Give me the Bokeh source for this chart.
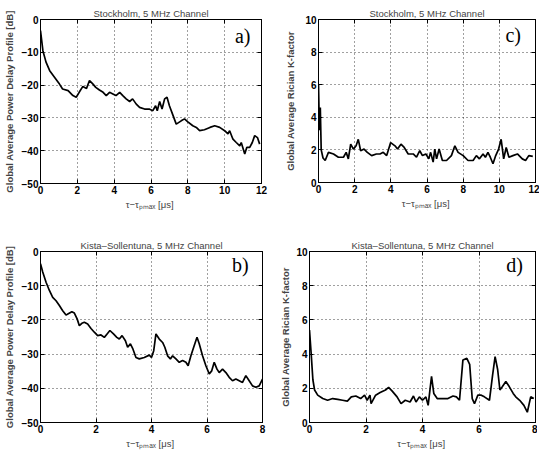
from bokeh.plotting import figure
from bokeh.layouts import column, row
from bokeh.models import Range1d, LinearAxis, Label, FixedTicker
from bokeh.embed import file_html
from bokeh.resources import INLINE

# ---------------- data ----------------
# a) Stockholm, power delay profile [dB]
sto_pdp_t = [0.0, 0.13, 0.3, 0.5, 0.76, 1.03, 1.2, 1.5, 1.76, 1.94, 2.1, 2.3, 2.5, 2.66,
             2.85, 3.0, 3.2, 3.4, 3.57, 3.75, 3.93, 4.1, 4.3, 4.47, 4.65, 4.84, 5.0, 5.2,
             5.38, 5.65, 5.9, 6.1, 6.25, 6.34, 6.47, 6.6, 6.74, 6.87, 7.0, 7.2, 7.37, 7.64,
             7.82, 8.0, 8.27, 8.46, 8.64, 8.9, 9.2, 9.46, 9.73, 10.0, 10.18, 10.27, 10.45,
             10.63, 10.82, 10.9, 11.09, 11.2, 11.36, 11.5, 11.63, 11.78, 11.9]
sto_pdp_db = [-3.4, -9.5, -13.0, -15.6, -17.6, -19.7, -21.2, -21.7, -23.2, -23.7, -22.2,
              -20.4, -21.0, -18.6, -19.7, -20.7, -21.5, -22.2, -23.2, -22.2, -22.7, -23.2,
              -22.2, -23.2, -24.2, -25.0, -24.2, -25.8, -26.8, -27.3, -27.3, -27.8, -26.3,
              -27.8, -25.0, -27.3, -24.2, -23.7, -26.3, -29.3, -31.9, -30.9, -30.3, -31.2,
              -32.4, -32.9, -33.9, -33.6, -32.9, -32.4, -32.9, -33.9, -34.9, -33.9, -36.5,
              -37.5, -38.5, -37.5, -41.0, -39.0, -39.0, -37.5, -35.4, -36.0, -38.0]

# c) Stockholm, Rician K-factor
sto_k_t = [0.0, 0.05, 0.1, 0.15, 0.25, 0.37, 0.55, 0.83, 1.1, 1.38, 1.53, 1.65, 1.78, 1.93,
           2.08, 2.2, 2.33, 2.52, 2.7, 2.94, 3.2, 3.4, 3.58, 3.77, 3.99, 4.23, 4.37, 4.56,
           4.74, 4.96, 5.24, 5.42, 5.6, 5.75, 5.94, 6.1, 6.2, 6.34, 6.43, 6.53, 6.67, 6.85,
           7.08, 7.35, 7.54, 7.72, 8.0, 8.27, 8.55, 8.73, 8.9, 9.1, 9.23, 9.37, 9.5, 9.65,
           9.8, 9.96, 10.1, 10.24, 10.38, 10.53, 10.75, 11.0, 11.27, 11.45, 11.63, 11.85]
sto_k = [6.0, 3.2, 4.6, 2.0, 1.5, 1.35, 1.85, 1.75, 1.55, 1.55, 1.85, 1.45, 2.35, 2.05,
         2.25, 2.65, 1.95, 2.05, 1.85, 1.65, 1.75, 1.75, 1.85, 1.65, 2.45, 2.25, 2.05, 2.35,
         2.15, 1.75, 1.75, 1.55, 1.95, 1.65, 1.75, 1.45, 1.85, 1.25, 2.05, 1.45, 2.05, 1.35,
         1.35, 1.65, 2.25, 1.85, 1.65, 1.35, 1.35, 1.65, 1.45, 1.75, 1.55, 1.85, 1.55, 1.15,
         1.65, 2.05, 2.65, 1.45, 2.15, 1.55, 1.65, 1.75, 1.45, 1.35, 1.65, 1.6]

# b) Kista-Sollentuna, power delay profile [dB]
kis_pdp_t = [0.0, 0.08, 0.2, 0.32, 0.44, 0.56, 0.68, 0.8, 0.92, 1.0, 1.13, 1.22, 1.32, 1.4,
             1.49, 1.58, 1.7, 1.82, 1.94, 2.06, 2.18, 2.3, 2.4, 2.5, 2.63, 2.75, 2.84, 2.94,
             3.06, 3.14, 3.24, 3.32, 3.44, 3.56, 3.74, 3.92, 4.0, 4.08, 4.16, 4.28, 4.4,
             4.48, 4.58, 4.68, 4.76, 4.88, 5.0, 5.12, 5.24, 5.32, 5.42, 5.52, 5.64, 5.72,
             5.84, 5.96, 6.08, 6.17, 6.26, 6.36, 6.44, 6.56, 6.68, 6.8, 6.92, 7.04, 7.16,
             7.28, 7.4, 7.52, 7.64, 7.76, 7.88, 8.0]
kis_pdp_db = [-3.6, -6.0, -9.0, -11.4, -13.4, -14.4, -15.8, -17.3, -18.6, -18.2, -17.6,
              -18.0, -19.7, -21.7, -21.0, -20.7, -21.2, -22.5, -23.6, -24.6, -24.4, -25.1,
              -24.1, -23.1, -24.1, -25.1, -25.6, -24.6, -26.1, -28.0, -27.0, -28.3, -31.0,
              -31.4, -31.0, -30.3, -31.0, -29.0, -24.1, -25.6, -26.6, -28.0, -30.5, -31.4,
              -30.5, -31.4, -32.4, -31.9, -32.4, -33.4, -30.5, -28.0, -25.1, -27.0, -30.5,
              -33.4, -35.8, -34.9, -32.4, -34.4, -35.4, -34.4, -35.4, -36.8, -37.8, -37.3,
              -37.8, -38.3, -36.3, -37.8, -39.3, -39.7, -39.3, -37.3]

# d) Kista-Sollentuna, Rician K-factor
kis_k_t = [0.0, 0.06, 0.12, 0.18, 0.29, 0.47, 0.64, 0.82, 1.0, 1.17, 1.34, 1.48, 1.64, 1.81,
           1.95, 2.04, 2.14, 2.18, 2.34, 2.5, 2.69, 2.8, 2.92, 3.1, 3.24, 3.39, 3.56, 3.68,
           3.77, 3.89, 4.0, 4.12, 4.2, 4.32, 4.4, 4.52, 4.73, 4.9, 5.08, 5.2, 5.31, 5.43,
           5.57, 5.67, 5.76, 5.84, 5.96, 6.08, 6.19, 6.37, 6.48, 6.57, 6.66, 6.74, 6.83,
           6.95, 7.07, 7.21, 7.3, 7.44, 7.59, 7.71, 7.83, 7.94]
kis_k = [5.4, 4.0, 2.5, 1.9, 1.6, 1.4, 1.3, 1.4, 1.35, 1.3, 1.25, 1.5, 1.55, 1.4, 1.6, 1.3,
         1.6, 1.1, 1.6, 1.75, 1.9, 2.05, 1.85, 1.5, 1.1, 1.3, 1.2, 1.55, 1.2, 1.5, 1.3, 1.5,
         1.0, 2.7, 1.7, 1.4, 1.4, 1.4, 1.55, 1.5, 1.3, 3.65, 3.75, 3.4, 1.4, 1.1, 1.6, 1.6,
         1.5, 1.3, 2.75, 3.85, 3.1, 1.9, 2.1, 2.4, 2.1, 1.7, 1.5, 1.3, 1.0, 0.6, 1.5, 1.4]

x_ticks_12 = [0, 2, 4, 6, 8, 10, 12]
x_ticks_8 = [0, 2, 4, 6, 8]
y_ticks_db = [-50, -40, -30, -20, -10, 0]
y_ticks_k = [0, 2, 4, 6, 8, 10]

title_sto = "Stockholm, 5 MHz Channel"
title_kis = "Kista\u2013Sollentuna, 5 MHz Channel"
ylabel_pdp = "Global Average Power Delay Profile [dB]"
ylabel_k = "Global Average Rician K-factor"
xlabel = "\u03c4\u2212\u03c4\u209a\u2098\u2090\u2093  [\u03bcs]"

FONT = "Liberation Sans"


def panel(t, v, title, ylabel, xmax, yr, xticks, yticks, tag, tag_xy,
          fw, fh, bl, br, bt, bb, ylab_standoff):
    p = figure(frame_width=fw, frame_height=fh,
               x_range=Range1d(0, xmax), y_range=Range1d(*yr),
               output_backend="svg", toolbar_location=None, title=title,
               min_border_left=bl, min_border_right=br,
               min_border_top=bt, min_border_bottom=bb)
    p.outline_line_color = "black"
    p.outline_line_alpha = 1
    p.outline_line_width = 1
    p.background_fill_color = "white"
    p.border_fill_color = "white"

    top = LinearAxis()
    right = LinearAxis()
    p.add_layout(top, "above")
    p.add_layout(right, "right")

    for ax in p.xaxis:
        ax.ticker = FixedTicker(ticks=xticks)
    for ax in p.yaxis:
        ax.ticker = FixedTicker(ticks=yticks)
    for ax in list(p.xaxis) + list(p.yaxis):
        ax.major_tick_in = 4
        ax.major_tick_out = 0
        ax.minor_tick_line_color = None
        ax.axis_line_color = "black"
        ax.major_tick_line_color = "black"
        ax.major_label_text_font = FONT
        ax.major_label_text_font_size = "10px"
        ax.major_label_text_font_style = "bold"
        ax.major_label_text_color = "black"
        ax.major_label_standoff = 2
    for ax in (top, right):
        ax.major_label_text_font_size = "0px"
        ax.major_label_standoff = 0

    bx = p.below[0]
    bx.axis_label = xlabel
    bx.axis_label_text_font = FONT
    bx.axis_label_text_font_size = "9.5px"
    bx.axis_label_text_font_style = "normal"
    bx.axis_label_standoff = 2
    ly = p.left[0]
    ly.axis_label = ylabel
    ly.axis_label_text_font = FONT
    ly.axis_label_text_font_size = "9.5px"
    ly.axis_label_text_font_style = "bold"
    ly.axis_label_standoff = ylab_standoff

    p.grid.grid_line_color = "black"
    p.grid.grid_line_alpha = 0.75
    p.grid.grid_line_dash = "1 3"
    p.grid.grid_line_width = 1

    p.title.text_font = FONT
    p.title.text_font_size = "9.5px"
    p.title.text_font_style = "normal"
    p.title.align = "center"
    p.title.standoff = 2

    p.line(t, v, line_color="black", line_width=1.7)

    p.add_layout(Label(x=tag_xy[0], y=tag_xy[1], text=tag, text_font="Liberation Serif",
                       text_font_size="20px", text_align="right", text_baseline="top",
                       text_color="black", background_fill_color="white"))
    return p


pa = panel(sto_pdp_t, sto_pdp_db, title_sto, ylabel_pdp, 12, (-50, 0), x_ticks_12, y_ticks_db,
           "a)", (11.4, -1.6), 221, 164, 36, 15, 16, 44, 4)
pc = panel(sto_k_t, sto_k, title_sto, ylabel_k, 12, (0, 10), x_ticks_12, y_ticks_k,
           "c)", (11.2, 9.7), 217, 163, 42, 4, 19, 42, 6)
pb = panel(kis_pdp_t, kis_pdp_db, title_kis, ylabel_pdp, 8, (-50, 0), x_ticks_8, y_ticks_db,
           "b)", (7.5, -0.6), 222, 171, 38, 12, 27, 23, 4)
pd = panel(kis_k_t, kis_k, title_kis, ylabel_k, 8, (0, 10), x_ticks_8, y_ticks_k,
           "d)", (7.55, 9.85), 226, 171, 35, 2, 26, 24, 2)

layout = column(row(pa, pc), row(pb, pd))

open("out.html", "w").write(file_html(layout, INLINE))
